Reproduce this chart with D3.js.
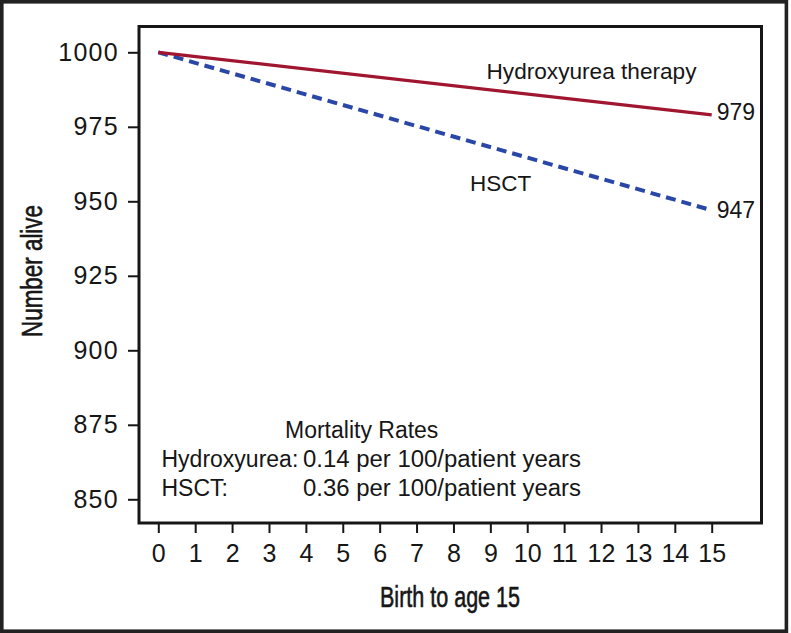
<!DOCTYPE html>
<html>
<head>
<meta charset="utf-8">
<script src="https://cdn.jsdelivr.net/npm/d3@7"></script>
<style>
  html, body { margin: 0; padding: 0; background: #fff; }
  svg { display: block; }
  text { font-family: "Liberation Sans", Arial, Helvetica, sans-serif; fill: #161616; }
</style>
</head>
<body>
<svg id="chart" width="791" height="633"></svg>
<script>
// ---- data ----
const years = d3.range(0, 16);              // x tick values 0..15
const yTicks = [850, 875, 900, 925, 950, 975, 1000];
const hydroxyurea = [{ age: 0, alive: 1000 }, { age: 15, alive: 979 }];
const hsct = [{ age: 0, alive: 1000 }, { age: 15, alive: 947 }];
const seriesNames = ["Hydroxyurea therapy", "HSCT"];
const endLabels = [979, 947];
const mortalityTitle = "Mortality Rates";
const mortalityRows = [
  { name: "Hydroxyurea:", rate: "0.14 per 100/patient years" },
  { name: "HSCT:", rate: "0.36 per 100/patient years" }
];

// ---- layout ----
const svg = d3.select("#chart");
const frame = { left: 139, top: 26.5, right: 761.5, bottom: 523 };

const x = d3.scaleLinear().domain([0, 15]).range([158.3, 711.7]);
const y = d3.scaleLinear().domain([850, 1000]).range([499.3, 52.3]);

// outer border
svg.append("rect")
  .attr("x", 1.8).attr("y", 1.8)
  .attr("width", 784.6).attr("height", 629.4)
  .attr("fill", "none").attr("stroke", "#222").attr("stroke-width", 3.6);

// plot frame
svg.append("rect")
  .attr("x", frame.left).attr("y", frame.top)
  .attr("width", frame.right - frame.left).attr("height", frame.bottom - frame.top)
  .attr("fill", "none").attr("stroke", "#161616").attr("stroke-width", 3);

// y axis
const yAxis = svg.append("g")
  .attr("transform", `translate(${frame.left - 1},0)`)
  .call(d3.axisLeft(y).tickValues(yTicks).tickSize(10).tickSizeOuter(0)
    .tickPadding(9).tickFormat(d3.format("d")));
yAxis.select(".domain").remove();
yAxis.selectAll(".tick line").attr("stroke", "#161616").attr("stroke-width", 2);
yAxis.selectAll(".tick text")
  .style("font-family", '"Liberation Sans", Arial, sans-serif')
  .style("font-size", "25px")
  .style("letter-spacing", "1.3px")
  .attr("fill", "#161616")
  .attr("dy", "0.32em");

// x axis
const xAxis = svg.append("g")
  .attr("transform", `translate(0,${frame.bottom + 1})`)
  .call(d3.axisBottom(x).tickValues(years).tickSize(9).tickSizeOuter(0).tickFormat(d3.format("d")));
xAxis.select(".domain").remove();
xAxis.selectAll(".tick line").attr("stroke", "#161616").attr("stroke-width", 2);
xAxis.selectAll(".tick text")
  .style("font-family", '"Liberation Sans", Arial, sans-serif')
  .style("font-size", "25px")
  .attr("fill", "#161616")
  .attr("y", 38).attr("dy", 0);

// axis titles (condensed)
svg.append("text")
  .attr("transform", "translate(41.5,271) rotate(-90)")
  .attr("text-anchor", "middle")
  .style("font-family", '"Liberation Sans Narrow", "Liberation Sans", Arial, sans-serif')
  .style("font-size", "30px")
  .attr("stroke", "#161616").attr("stroke-width", 0.6)
  .attr("textLength", 132).attr("lengthAdjust", "spacingAndGlyphs")
  .text("Number alive");

svg.append("text")
  .attr("x", 450).attr("y", 606.5)
  .attr("text-anchor", "middle")
  .style("font-family", '"Liberation Sans Narrow", "Liberation Sans", Arial, sans-serif')
  .style("font-size", "30px")
  .attr("stroke", "#161616").attr("stroke-width", 0.6)
  .attr("textLength", 140).attr("lengthAdjust", "spacingAndGlyphs")
  .text("Birth to age 15");

// lines
const line = d3.line().x(d => x(d.age)).y(d => y(d.alive));

svg.append("path")
  .datum(hsct)
  .attr("d", line)
  .attr("fill", "none")
  .attr("stroke", "#2a47a8")
  .attr("stroke-width", 4)
  .attr("stroke-dasharray", "10,6");

svg.append("path")
  .datum(hydroxyurea)
  .attr("d", line)
  .attr("fill", "none")
  .attr("stroke", "#a0152f")
  .attr("stroke-width", 3.2);

// series labels
svg.append("text").attr("x", 486.5).attr("y", 79)
  .style("font-size", "22px").attr("textLength", 210).attr("lengthAdjust", "spacingAndGlyphs")
  .text(seriesNames[0]);
svg.append("text").attr("x", 470).attr("y", 191)
  .style("font-size", "22.5px").text(seriesNames[1]);

// end labels
svg.append("text").attr("x", x(15) + 5).attr("y", y(hydroxyurea[1].alive) + 5.5)
  .style("font-size", "23px").text(endLabels[0]);
svg.append("text").attr("x", x(15) + 5).attr("y", y(hsct[1].alive) + 8)
  .style("font-size", "23px").text(endLabels[1]);

// mortality box
svg.append("text").attr("x", 285).attr("y", 438)
  .style("font-size", "23px").text(mortalityTitle);
mortalityRows.forEach((r, i) => {
  const by = 467 + i * 29;
  svg.append("text").attr("x", 161.5).attr("y", by).style("font-size", "23px").text(r.name);
  svg.append("text").attr("x", 303).attr("y", by).style("font-size", "23px")
    .attr("textLength", 278).attr("lengthAdjust", "spacingAndGlyphs").text(r.rate);
});
</script>
</body>
</html>
